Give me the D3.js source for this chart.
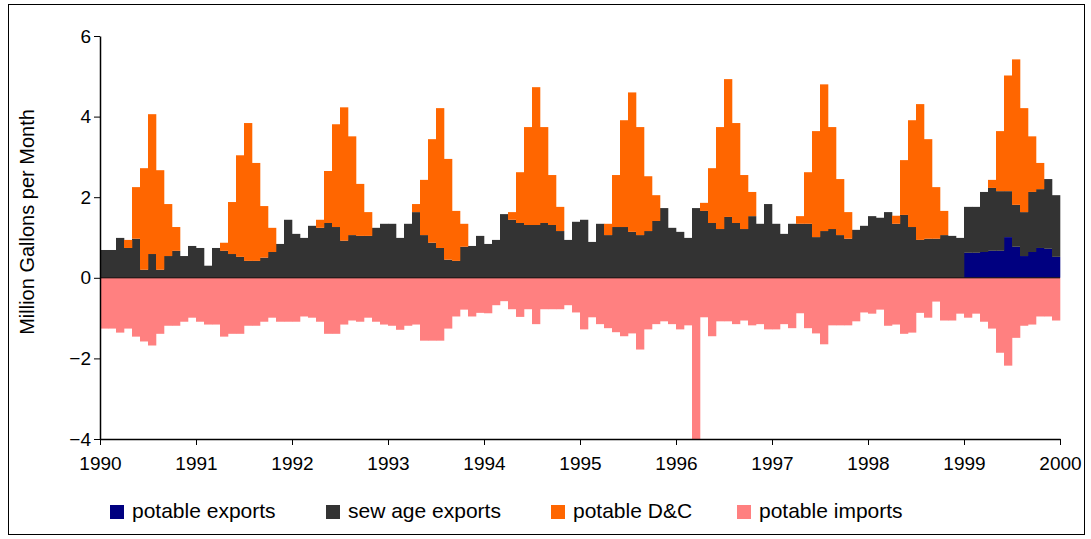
<!DOCTYPE html>
<html>
<head>
<meta charset="utf-8">
<script src="https://cdn.jsdelivr.net/npm/d3@7"></script>
<style>
  body { margin: 0; background: #fff; }
  text { font-family: "Liberation Sans", Arial, sans-serif; }
</style>
</head>
<body>
<svg id="chart" width="1091" height="539"></svg>
<script>
//  data, monthly, Jan 1990 .. Dec 1999
const years = [1990, 1991, 1992, 1993, 1994, 1995, 1996, 1997, 1998, 1999, 2000];
const y_ticks = [-4, -2, 0, 2, 4, 6];
const series_names = ["potable exports", "sew age exports", "potable D&C", "potable imports"];

const potable_exports = [
  0,0,0,0,0,0,0,0,0,0,0,0,
  0,0,0,0,0,0,0,0,0,0,0,0,
  0,0,0,0,0,0,0,0,0,0,0,0,
  0,0,0,0,0,0,0,0,0,0,0,0,
  0,0,0,0,0,0,0,0,0,0,0,0,
  0,0,0,0,0,0,0,0,0,0,0,0,
  0,0,0,0,0,0,0,0,0,0,0,0,
  0,0,0,0,0,0,0,0,0,0,0,0,
  0,0,0,0,0,0,0,0,0,0,0,0,
  0.62,0.62,0.64,0.67,0.67,1.01,0.77,0.54,0.64,0.74,0.72,0.52
];
const sewage_exports = [
  0.69,0.69,0.99,0.74,0.97,0.20,0.59,0.20,0.54,0.67,0.54,0.79,
  0.74,0.30,0.74,0.67,0.59,0.52,0.42,0.42,0.50,0.64,0.84,1.44,
  1.09,0.99,1.29,1.24,1.36,1.26,0.92,1.06,1.04,1.04,1.24,1.34,
  1.34,0.99,1.34,1.63,1.06,0.87,0.74,0.45,0.42,0.77,0.79,1.04,
  0.84,0.94,1.58,1.44,1.36,1.31,1.31,1.36,1.31,1.16,0.94,1.39,
  1.44,0.89,1.34,1.06,1.26,1.26,1.14,1.06,1.16,1.41,1.73,1.24,
  1.14,0.99,1.73,1.66,1.36,1.21,1.51,1.36,1.21,1.53,1.34,1.83,
  1.34,1.09,1.34,1.34,1.34,1.01,1.16,1.21,1.06,0.97,1.19,1.29,
  1.53,1.49,1.63,1.34,1.56,1.26,0.94,0.97,0.97,1.06,1.04,0.99,
  1.14,1.14,1.49,1.56,1.48,1.14,1.04,1.09,1.49,1.46,1.73,1.53
];
const potable_dc = [
  0,0,0,0.20,1.28,2.52,3.47,2.47,1.29,0.59,0,0,
  0,0,0,0.20,1.29,2.52,3.42,2.43,1.28,0.60,0,0,
  0,0,0,0.20,1.29,2.55,3.31,2.45,1.29,0.59,0,0,
  0,0,0,0.20,1.37,2.57,3.47,2.50,1.24,0.57,0,0,
  0,0,0,0.19,1.26,2.43,3.42,2.38,1.24,0.60,0,0,
  0,0,0,0.28,1.29,2.65,3.46,2.68,1.36,0.64,0,0,
  0,0,0,0.20,1.36,2.53,3.42,2.48,1.34,0.60,0,0,
  0,0,0,0.19,1.28,2.63,3.64,2.53,1.39,0.66,0,0,
  0,0,0,0.20,1.36,2.65,3.37,2.47,1.28,0.60,0,0,
  0,0,0,0.20,1.49,2.87,3.61,2.58,1.38,0.65,0,0
];
const potable_imports = [
  -1.26,-1.26,-1.36,-1.26,-1.46,-1.58,-1.68,-1.39,-1.19,-1.19,-1.09,-0.99,
  -1.09,-1.16,-1.16,-1.46,-1.39,-1.39,-1.19,-1.19,-1.09,-0.99,-1.09,-1.09,
  -1.09,-0.96,-0.99,-1.09,-1.39,-1.39,-1.16,-1.06,-1.09,-0.99,-1.09,-1.16,
  -1.19,-1.29,-1.19,-1.16,-1.56,-1.56,-1.56,-1.26,-0.96,-0.79,-0.96,-0.87,
  -0.88,-0.68,-0.58,-0.78,-0.97,-0.78,-1.15,-0.78,-0.78,-0.78,-0.68,-0.86,
  -1.28,-0.98,-1.15,-1.25,-1.35,-1.45,-1.38,-1.78,-1.28,-1.15,-1.08,-1.15,
  -1.28,-1.18,-4.00,-0.98,-1.45,-1.08,-1.08,-1.15,-1.06,-1.18,-1.15,-1.28,
  -1.28,-1.15,-1.25,-0.88,-1.25,-1.38,-1.65,-1.18,-1.18,-1.18,-1.08,-0.86,
  -0.89,-0.79,-1.19,-1.16,-1.39,-1.36,-0.87,-0.99,-0.59,-1.06,-1.06,-0.89,
  -0.99,-0.89,-1.09,-1.26,-1.86,-2.18,-1.49,-1.19,-1.16,-0.96,-0.96,-1.06
];

//  draw
function draw_chart() {
  const svg = d3.select("#chart");
  const colors = ["#000080", "#333333", "#FF6600", "#FF8080"];
  const plot = {left: 100, right: 1060, top: 36, bottom: 439};

  // frame
  svg.append("rect").attr("x", 8.5).attr("y", 4.5).attr("width", 1076).attr("height", 530)
     .attr("fill", "none").attr("stroke", "#000").attr("stroke-width", 1);

  const n = sewage_exports.length;
  const x = d3.scaleLinear().domain([0, n]).range([plot.left, plot.right]);
  const xYear = d3.scaleLinear().domain([years[0], years[years.length - 1]]).range([plot.left, plot.right]);
  const y = d3.scaleLinear().domain([-4, 6]).range([plot.bottom, plot.top]);

  const rows = d3.range(n).map(i => ({
    i: i,
    exp: potable_exports[i],
    sew: sewage_exports[i],
    dc: potable_dc[i]
  }));
  const stack = d3.stack().keys(["exp", "sew", "dc"])(rows);

  stack.forEach((layer, k) => {
    svg.append("g").selectAll("rect")
      .data(layer.filter(d => d[1] - d[0] > 0))
      .join("rect")
        .attr("x", d => x(d.data.i))
        .attr("width", d => x(d.data.i + 1) - x(d.data.i) + 0.3)
        .attr("y", d => y(d[1]))
        .attr("height", d => y(d[0]) - y(d[1]))
        .attr("fill", colors[k]);
  });

  svg.append("g").selectAll("rect")
    .data(potable_imports)
    .join("rect")
      .attr("x", (d, i) => x(i))
      .attr("width", (d, i) => x(i + 1) - x(i) + 0.3)
      .attr("y", y(0))
      .attr("height", d => y(d) - y(0))
      .attr("fill", colors[3]);

  // axes
  const xAxis = svg.append("g")
    .attr("transform", `translate(0,${y(-4)})`)
    .call(d3.axisBottom(xYear).tickValues(years).tickFormat(d3.format("d")).tickSize(6).tickSizeOuter(0));
  xAxis.selectAll("text").attr("font-size", 19).attr("dy", "1.15em").attr("fill", "#000");
  xAxis.select(".domain").attr("stroke-width", 1.5);

  const yAxis = svg.append("g")
    .attr("transform", `translate(${plot.left},0)`)
    .call(d3.axisLeft(y).tickValues(y_ticks).tickSize(6).tickSizeOuter(0));
  yAxis.selectAll("text").attr("font-size", 19).attr("fill", "#000");
  yAxis.select(".domain").attr("stroke-width", 1.5);

  svg.append("line").attr("x1", plot.left).attr("x2", plot.right)
     .attr("y1", y(0)).attr("y2", y(0)).attr("stroke", "#000").attr("stroke-width", 1);

  svg.append("text")
     .attr("transform", `translate(34,222) rotate(-90)`)
     .attr("text-anchor", "middle").attr("font-size", 20)
     .text("Million Gallons per Month");

  // legend
  const legend_x = [110, 326, 551, 737];
  series_names.forEach((name, k) => {
    svg.append("rect").attr("x", legend_x[k]).attr("y", 505).attr("width", 14).attr("height", 14)
       .attr("fill", colors[k]);
    svg.append("text").attr("x", legend_x[k] + 22).attr("y", 518).attr("font-size", 21)
       .text(name);
  });
}

draw_chart();
</script>
</body>
</html>
